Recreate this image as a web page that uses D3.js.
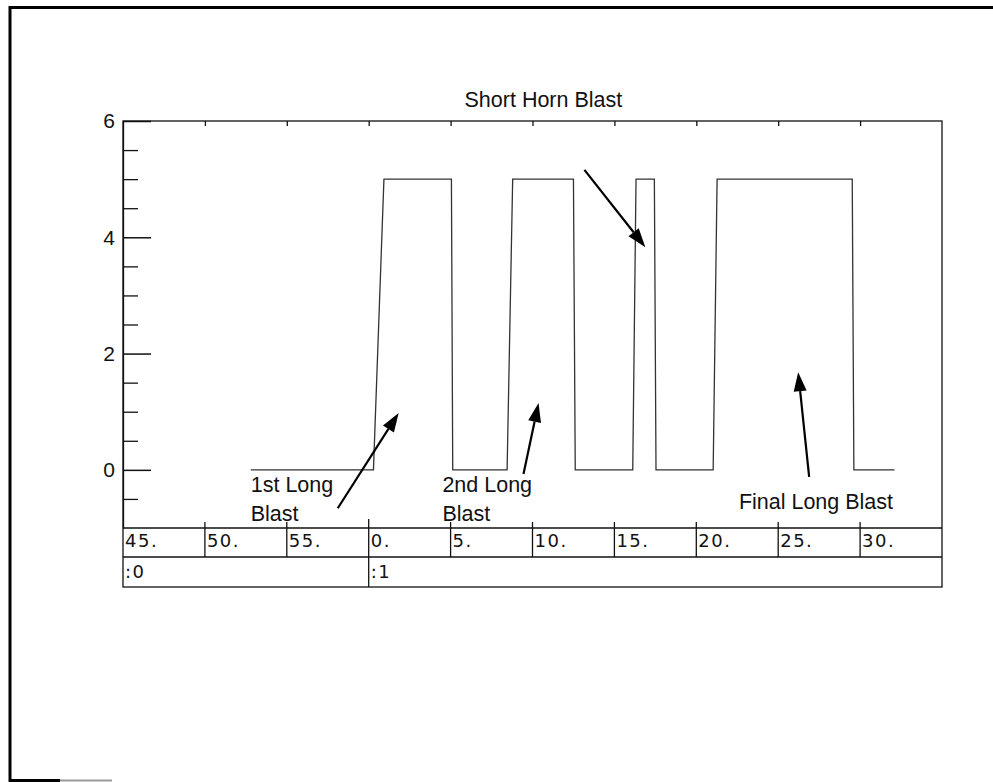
<!DOCTYPE html>
<html>
<head>
<meta charset="utf-8">
<script src="https://cdn.jsdelivr.net/npm/d3@7"></script>
<style>
  html, body { margin: 0; padding: 0; background: #fff; }
  svg text { font-family: "Liberation Sans", Arial, sans-serif; fill: #111; }
</style>
</head>
<body>
<div id="chart"></div>
<script>
// horn signal, seconds relative to minute 1 (0 = ":1 0.")
const sigT = [-7.2, 0.29, 0.93, 5.05, 5.13, 8.45, 8.79, 12.5, 12.61, 16.12, 16.32, 17.44, 17.54, 21.03, 21.27, 29.52, 29.62, 32.1];
const sigV = [0, 0, 5, 5, 0, 0, 5, 5, 0, 0, 5, 5, 0, 0, 5, 5, 0, 0];

const yMajor = [0, 2, 4, 6];
const yMinor = [-0.5, 0.5, 1, 1.5, 2.5, 3, 3.5, 4.5, 5, 5.5];

const secTicks  = [-15, -10, -5, 0, 5, 10, 15, 20, 25, 30];
const secLabels = ["45.", "50.", "55.", "0.", "5.", "10.", "15.", "20.", "25.", "30."];
const minStarts = [-15, 0];
const minLabels = [":0", ":1"];

// annotations in data units: [tail t, tail v, tip t, tip v]
const arrows = [
  [-1.89, -0.66, 1.83, 0.98],
  [9.45, -0.07, 10.37, 1.15],
  [13.17, 5.16, 16.89, 3.83],
  [26.89, -0.12, 26.22, 1.68]
];
const notes = [
  { t: -7.2,  v: -0.38, text: "1st Long" },
  { t: -7.2,  v: -0.88, text: "Blast" },
  { t: 4.5,   v: -0.38, text: "2nd Long" },
  { t: 4.5,   v: -0.88, text: "Blast" },
  { t: 5.85,  v: 6.24,  text: "Short Horn Blast" },
  { t: 22.6,  v: -0.67, text: "Final Long Blast" }
];

const W = 993, H = 782;
const svg = d3.select("#chart").append("svg")
  .attr("width", W).attr("height", H);

// page frame (scanned sheet edges)
svg.append("line").attr("x1", 10).attr("y1", 6).attr("x2", 10).attr("y2", 782)
  .attr("stroke", "#000").attr("stroke-width", 3);
svg.append("line").attr("x1", 9).attr("y1", 7.5).attr("x2", 993).attr("y2", 7.5)
  .attr("stroke", "#000").attr("stroke-width", 3);
svg.append("line").attr("x1", 9).attr("y1", 780.5).attr("x2", 60).attr("y2", 780.5)
  .attr("stroke", "#000").attr("stroke-width", 3);
svg.append("line").attr("x1", 60).attr("y1", 780.5).attr("x2", 112).attr("y2", 780.5)
  .attr("stroke", "#999").attr("stroke-width", 2);

const plotLeft = 123, plotRight = 942, plotTop = 121, plotBottom = 528;
const row1 = 528, row2 = 557, tableBottom = 587;

const x = d3.scaleLinear().domain([-15, 35]).range([plotLeft, plotRight]);
const y = d3.scaleLinear().domain([-1, 6]).range([plotBottom, plotTop]);

// plot box
svg.append("rect")
  .attr("x", plotLeft).attr("y", plotTop)
  .attr("width", plotRight - plotLeft).attr("height", tableBottom - plotTop)
  .attr("fill", "none").attr("stroke", "#111").attr("stroke-width", 1.3);

// y axis: major + minor ticks pointing inward
const yAxis = svg.append("g").attr("transform", `translate(${plotLeft},0)`)
  .call(d3.axisLeft(y).tickValues(yMajor).tickSizeInner(-28).tickSizeOuter(0)
    .tickPadding(8).tickFormat(d3.format("d")));
yAxis.select(".domain").attr("stroke", "#111").attr("stroke-width", 1.3);
yAxis.selectAll(".tick line").attr("stroke", "#111").attr("stroke-width", 1.5);
yAxis.selectAll(".tick text")
  .style("font-family", "'Liberation Sans', Arial, sans-serif")
  .style("font-size", "21px").attr("fill", "#111");

const yMinorAxis = svg.append("g").attr("transform", `translate(${plotLeft},0)`)
  .call(d3.axisLeft(y).tickValues(yMinor).tickSizeInner(-15).tickSizeOuter(0).tickFormat(""));
yMinorAxis.select(".domain").remove();
yMinorAxis.selectAll(".tick line").attr("stroke", "#111").attr("stroke-width", 1.3);

// top axis ticks
const xTop = svg.append("g").attr("transform", `translate(0,${plotTop})`)
  .call(d3.axisTop(x).tickValues(secTicks.slice(1)).tickSizeInner(-5).tickSizeOuter(0).tickFormat(""));
xTop.select(".domain").remove();
xTop.selectAll(".tick line").attr("stroke", "#111").attr("stroke-width", 1.3);

// time table rows
svg.append("line").attr("x1", plotLeft).attr("x2", plotRight).attr("y1", row1).attr("y2", row1)
  .attr("stroke", "#111").attr("stroke-width", 1.3);
svg.append("line").attr("x1", plotLeft).attr("x2", plotRight).attr("y1", row2).attr("y2", row2)
  .attr("stroke", "#111").attr("stroke-width", 1.3);

svg.append("g").selectAll("line")
  .data(secTicks.slice(1))
  .enter().append("line")
    .attr("x1", d => x(d)).attr("x2", d => x(d))
    .attr("y1", d => d === 0 ? row1 - 9 : row1 - 6)
    .attr("y2", d => d === 0 ? tableBottom : row2)
    .attr("stroke", "#111").attr("stroke-width", 1.3);

const cellFont = sel => sel
  .style("font-family", "'DejaVu Sans', sans-serif")
  .style("font-size", "18px")
  .style("letter-spacing", "1.5px")
  .attr("fill", "#222");

svg.append("g").selectAll("text")
  .data(secTicks)
  .enter().append("text")
    .attr("x", d => x(d) + 2)
    .attr("y", 547)
    .call(cellFont)
    .text((d, i) => secLabels[i]);

svg.append("g").selectAll("text")
  .data(minStarts)
  .enter().append("text")
    .attr("x", d => x(d) + 2)
    .attr("y", 578)
    .call(cellFont)
    .text((d, i) => minLabels[i]);

// horn signal
const line = d3.line().x((d, i) => x(sigT[i])).y(d => y(d));
svg.append("path")
  .datum(sigV)
  .attr("d", line)
  .attr("fill", "none")
  .attr("stroke", "#333")
  .attr("stroke-width", 1.3);

// annotation arrows
const arrowG = svg.append("g");
arrows.forEach(([t0, v0, t1, v1]) => {
  const x0 = x(t0), y0 = y(v0), x1 = x(t1), y1 = y(v1);
  const ang = Math.atan2(y1 - y0, x1 - x0);
  const hl = 19, hw = 6.5;
  const bx = x1 - hl * Math.cos(ang), by = y1 - hl * Math.sin(ang);
  arrowG.append("line")
    .attr("x1", x0).attr("y1", y0).attr("x2", bx).attr("y2", by)
    .attr("stroke", "#000").attr("stroke-width", 2.2);
  const px = -Math.sin(ang) * hw, py = Math.cos(ang) * hw;
  arrowG.append("path")
    .attr("d", `M${x1},${y1}L${bx + px},${by + py}L${bx - px},${by - py}Z`)
    .attr("fill", "#000");
});

svg.append("g").selectAll("text")
  .data(notes)
  .enter().append("text")
    .attr("x", d => x(d.t))
    .attr("y", d => y(d.v))
    .style("font-size", "21.5px")
    .text(d => d.text);
</script>
</body>
</html>
